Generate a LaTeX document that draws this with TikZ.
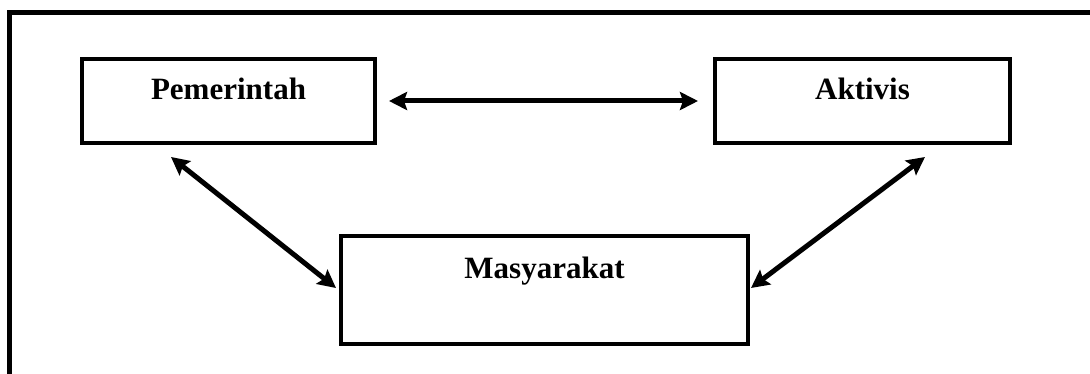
\documentclass[tikz,border=0pt]{standalone}
\usepackage{fontspec}
\setmainfont{Liberation Serif}
\usetikzlibrary{arrows.meta,calc}

\begin{document}
\begin{tikzpicture}[x=1pt,y=-1pt,line width=4pt,>={Stealth[length=18pt,width=18pt,inset=3pt]},block/.style ={rectangle, draw=black, line width=4pt, inner sep=0pt, align=center, minimum width=#1, font=\fontsize{31}{36}\selectfont\bfseries}]
\useasboundingbox (0,0) rectangle (1090,374);
\clip (0,0) rectangle (1090,374);
\draw[line width=5pt] (9.5,12.5) rectangle (1110,400);
\draw (228.5,101) node[block=293pt, text height=41pt, text depth=43pt] (P) {Pemerintah};
\draw (862.5,101) node[block=295pt, text height=41pt, text depth=43pt] (A) {Aktivis};
\draw (544.5,290) node[block=407pt, text height=42pt, text depth=66pt] (M) {Masyarakat};
\draw[<->,line width=5pt,shorten <=12pt,shorten >=15pt] (P.east)--(A.west);
\draw[<->,line width=5pt] ($(P.south west)+(91,12)$)--($(M.west)+(-3,-2)$);
\draw[<->,line width=5pt] ($(A.south east)+(-87,12)$)--($(M.east)+(1,-2)$);
\end{tikzpicture}
\end{document}
